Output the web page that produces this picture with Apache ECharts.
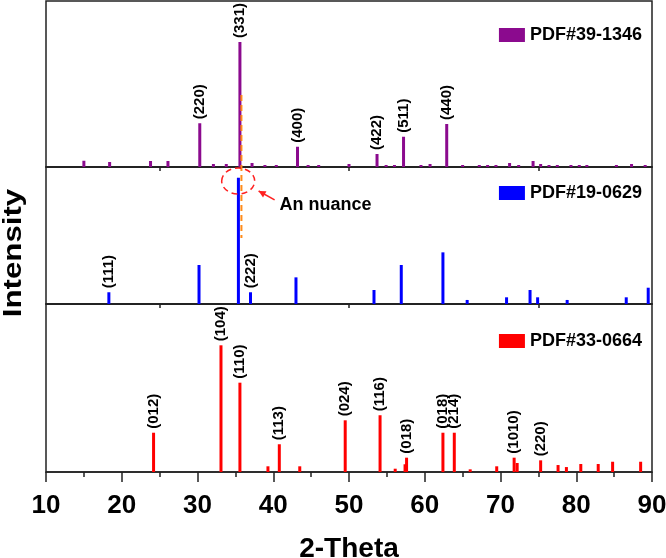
<!DOCTYPE html>
<html>
<head>
<meta charset="utf-8">
<script src="https://cdn.jsdelivr.net/npm/echarts@6/dist/echarts.min.js"></script>
<style>html,body{margin:0;padding:0;background:#fff}#c{width:666px;height:558px}</style>
</head>
<body>
<div id="c"></div>
<script>
// ---- data ----
const xTicks = [10, 20, 30, 40, 50, 60, 70, 80, 90];
const upperTicks = [25, 50, 75];

const purpleX = [15.0,18.4,23.8,26.1,30.3,32.1,33.8,35.6,37.2,38.9,40.4,43.2,44.6,46.0,50.0,53.7,54.9,56.0,57.2,59.5,60.7,62.9,65.0,67.2,68.3,69.4,71.2,72.4,74.3,75.3,76.4,77.5,79.3,80.4,81.4,85.3,87.3,89.1];
const purpleY = [5,4,4.8,4.8,35,2.4,2.4,100,3.2,1.6,1.6,16.2,1.6,1.6,2.4,10.4,1.6,1.6,24.2,1.6,2.4,34.4,1.6,1.6,1.6,1.6,3.2,1.6,4.8,2.4,1.6,1.6,1.6,1.6,1.6,1.6,2.4,1.6];
const purpleHkl = [[30.3,'(220)'],[35.6,'(331)'],[43.2,'(400)'],[53.7,'(422)'],[57.2,'(511)'],[62.9,'(440)']];

const blueX = [18.3,30.2,35.4,37.0,43.0,53.3,56.9,62.4,65.6,70.8,73.9,74.9,78.8,86.6,89.5];
const blueY = [9.3,30.9,100,9.3,21.1,11.1,30.9,40.9,3.2,5.3,11.1,5.3,3.2,5.3,12.9];
const blueHkl = [[18.3,'(111)'],[37.0,'(222)']];

const redX = [24.2,33.1,35.6,39.3,40.8,43.5,49.5,54.1,56.1,57.4,57.6,62.4,63.9,66.0,69.5,71.8,72.2,75.3,77.6,78.7,80.6,82.9,84.8,88.5];
const redY = [31,100,70.5,4.5,21.9,4.5,40.8,44.8,2.6,6.1,11.3,31,31,2.1,4.5,11.3,7.1,9.2,5.5,3.9,6.3,6.3,8.1,8.1];
const redHkl = [[24.2,'(012)'],[33.1,'(104)'],[35.6,'(110)'],[40.8,'(113)'],[49.5,'(024)'],[54.1,'(116)'],[57.6,'(018)'],[62.4,'(018)'],[63.9,'(214)'],[71.8,'(1010)'],[75.3,'(220)']];

const seriesNames = ['PDF#39-1346', 'PDF#19-0629', 'PDF#33-0664'];
const colors = ['#8B0A8E', '#0000FF', '#FF0000'];

// annotation anchors (data space, middle/top panel)
const nuanceLineX = 35.8;
const nuanceText = 'An nuance';

// ---- build ----
const FONT = '"Liberation Sans", Arial, sans-serif';
function pairs(xs, ys) { return xs.map((x, i) => [x, ys[i]]); }
function hklFormatter(list) {
  return p => { const f = list.find(h => Math.abs(h[0] - p.value[0]) < 0.01); return f ? f[1] : ''; };
}
const grids = [
  {left: 46, right: 14, top: 1, height: 166},
  {left: 46, right: 14, top: 167, height: 137},
  {left: 46, right: 14, top: 304, height: 168}
].map(g => Object.assign(g, {show: true, borderColor: '#222', borderWidth: 1.5, backgroundColor: 'transparent',
  containLabel: false, outerBoundsMode: 'none'}));

const yMax = [132.8, 108.5, 132.6];
function xAxisFor(i) {
  const base = {
    type: 'value', gridIndex: i, min: 10, max: 90,
    axisLine: {show: true, lineStyle: {color: '#222', width: 1.5}},
    splitLine: {show: false}
  };
  if (i < 2) {
    return Object.assign(base, {
      interval: 10,
      axisLabel: {show: false},
      axisTick: {show: true, customValues: upperTicks, length: 4, lineStyle: {color: '#222', width: 1.5}}
    });
  }
  return Object.assign(base, {
    interval: 10,
    axisTick: {show: true, length: 10, lineStyle: {color: '#222', width: 1.5}},
    minorTick: {show: true, splitNumber: 2, length: 5, lineStyle: {color: '#222', width: 1.5}},
    axisLabel: {show: true, customValues: xTicks, margin: 21, fontSize: 26, fontWeight: 'bold', color: '#000', fontFamily: FONT},
    name: '2-Theta', nameLocation: 'middle', nameGap: 63,
    nameTextStyle: {fontSize: 28, fontWeight: 'bold', color: '#000', fontFamily: FONT}
  });
}
function yAxisFor(i) {
  return {type: 'value', gridIndex: i, min: 0, max: yMax[i], show: false};
}
const labelStyle = {
  show: true, position: 'top', rotate: 90, align: 'left', verticalAlign: 'middle', distance: 4,
  fontSize: 15, fontWeight: 'bold', color: '#000', fontFamily: FONT
};
const dataSets = [pairs(purpleX, purpleY), pairs(blueX, blueY), pairs(redX, redY)];
const hkls = [purpleHkl, blueHkl, redHkl];
const series = dataSets.map((d, i) => ({
  type: 'bar', name: seriesNames[i], xAxisIndex: i, yAxisIndex: i,
  data: d, barWidth: 3, itemStyle: {color: colors[i]},
  label: Object.assign({}, labelStyle, {formatter: hklFormatter(hkls[i])}),
  animation: false, silent: true
}));
const legendTops = [21, 179, 327];
const legends = seriesNames.map((n, i) => ({
  data: [{name: n, icon: 'rect'}], right: 19, top: legendTops[i], itemWidth: 26, itemHeight: 14,
  textStyle: {fontSize: 18, fontWeight: 'bold', color: '#000', fontFamily: FONT}, selectedMode: false
}));

const chart = echarts.init(document.getElementById('c'));
chart.setOption({
  animation: false,
  grid: grids,
  xAxis: [0, 1, 2].map(xAxisFor),
  yAxis: [0, 1, 2].map(yAxisFor),
  legend: legends,
  series: series
});

// ---- annotations ----
const P = (gi, x, y) => chart.convertToPixel({gridIndex: gi}, [x, y]);
const lineTop = P(0, nuanceLineX, 57.6);
const lineBot = P(1, nuanceLineX, 52.3);
const ell = P(1, 35.37, 97.4);
const tip = P(1, 38.07, 89.5);
const tail = P(1, 40.18, 82.4);
const txt = P(1, 40.84, 78.4);
const ang = Math.atan2(tip[1] - tail[1], tip[0] - tail[0]);
const hl = 7, hw = 3.5;
const head = [
  tip,
  [tip[0] - hl * Math.cos(ang) + hw * Math.sin(ang), tip[1] - hl * Math.sin(ang) - hw * Math.cos(ang)],
  [tip[0] - hl * Math.cos(ang) - hw * Math.sin(ang), tip[1] - hl * Math.sin(ang) + hw * Math.cos(ang)]
];
chart.setOption({
  graphic: [
    {type: 'line', z: 10, shape: {x1: lineTop[0], y1: lineTop[1], x2: lineBot[0], y2: lineBot[1]},
     style: {stroke: '#FF8C1A', lineWidth: 2, lineDash: [6, 4]}},
    {type: 'ellipse', z: 10, shape: {cx: ell[0], cy: ell[1], rx: 16.5, ry: 13},
     style: {fill: 'none', stroke: '#FF2020', lineWidth: 1.5, lineDash: [6, 4]}},
    {type: 'line', z: 10, shape: {x1: tail[0], y1: tail[1], x2: tip[0], y2: tip[1]},
     style: {stroke: '#FF2020', lineWidth: 1.5}},
    {type: 'polygon', z: 10, shape: {points: head}, style: {fill: '#FF2020'}},
    {type: 'text', z: 10, x: txt[0], y: txt[1],
     style: {text: nuanceText, font: 'bold 18px ' + FONT, fill: '#000', align: 'left', verticalAlign: 'middle'}},
    {type: 'text', z: 10, x: 14, y: 253, rotation: Math.PI / 2, scaleX: 1.25,
     style: {text: 'Intensity', font: 'bold 25px ' + FONT, fill: '#000', align: 'center', verticalAlign: 'middle'}}
  ]
});
</script>
</body>
</html>
